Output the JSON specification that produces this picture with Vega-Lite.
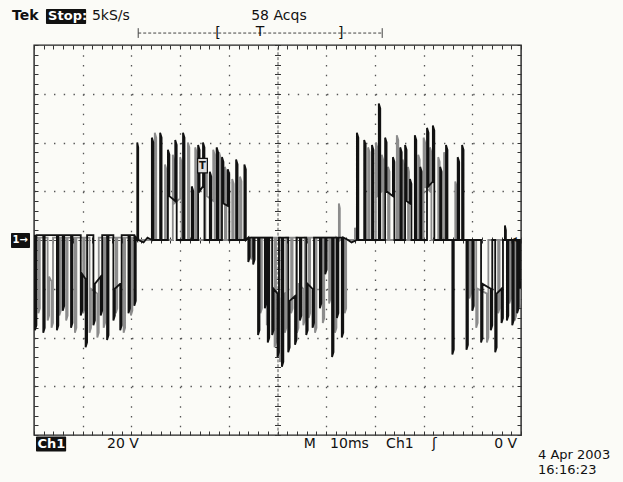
{
"$schema": "https://vega.github.io/schema/vega-lite/v6.json",
"width": 487, "height": 390,
"autosize": {"type": "none"},
"padding": {"left": 34, "top": 45, "right": 102, "bottom": 47},
"background": "#fbfbf7",
"config": {"view": {"stroke": "#222222", "strokeWidth": 1.4, "fill": "#fbfbf7"}, "text": {"font": "DejaVu Sans"}},
"datasets": {
"a": [
{"t":0,"v":1},
{"t":0.2,"v":2},{"t":0.2,"v":-37},{"t":0.5,"v":-35},{"t":0.5,"v":2},
{"t":1.9,"v":2},{"t":1.9,"v":-38},{"t":2.2,"v":-36},{"t":2.2,"v":2},
{"t":4.7,"v":2},{"t":4.7,"v":-37},{"t":5.0,"v":-35},{"t":5.0,"v":2},
{"t":5.9,"v":2},{"t":5.9,"v":-29},{"t":6.2,"v":-27},{"t":6.2,"v":2},
{"t":7.6,"v":2},{"t":7.6,"v":-36},{"t":7.9,"v":-34},{"t":7.9,"v":2},
{"t":9.6,"v":2},{"t":9.6,"v":-31},{"t":9.9,"v":-29},{"t":9.9,"v":-14},
{"t":10.6,"v":-16},{"t":10.6,"v":-44},{"t":10.9,"v":-42},{"t":10.9,"v":2},
{"t":12.2,"v":2},{"t":12.2,"v":-35},{"t":12.5,"v":-33},{"t":12.5,"v":-18},
{"t":13.7,"v":-15},{"t":13.7,"v":-31},{"t":14.0,"v":-29},{"t":14.0,"v":2},
{"t":15.0,"v":2},{"t":15.0,"v":-41},{"t":15.3,"v":-39},{"t":15.3,"v":2},
{"t":16.3,"v":2},{"t":16.3,"v":-33},{"t":16.6,"v":-31},{"t":16.6,"v":-20},
{"t":17.7,"v":-18},{"t":17.7,"v":-37},{"t":18.0,"v":-35},{"t":18.0,"v":2},
{"t":19.4,"v":2},{"t":19.4,"v":-30},{"t":19.7,"v":-28},{"t":19.7,"v":2},
{"t":20.6,"v":2},{"t":20.6,"v":-27},{"t":20.9,"v":-25},{"t":20.9,"v":1},
{"t":21.2,"v":0},{"t":21.2,"v":40},{"t":21.4,"v":38},{"t":21.4,"v":0},
{"t":22.5,"v":-1},{"t":23.3,"v":1},
{"t":24.2,"v":0},{"t":24.2,"v":42},{"t":24.5,"v":40},{"t":24.5,"v":0},
{"t":25.9,"v":0},{"t":25.9,"v":44},{"t":26.2,"v":42},{"t":26.2,"v":0},
{"t":27.5,"v":0},{"t":27.5,"v":37},{"t":27.8,"v":35},{"t":27.8,"v":18},
{"t":29.0,"v":16},{"t":29.0,"v":41},{"t":29.3,"v":39},{"t":29.3,"v":0},
{"t":30.6,"v":0},{"t":30.6,"v":44},{"t":30.9,"v":42},{"t":30.9,"v":0},
{"t":32.4,"v":0},{"t":32.4,"v":22},{"t":32.7,"v":20},{"t":32.7,"v":0},
{"t":33.7,"v":0},{"t":33.7,"v":39},{"t":34.0,"v":37},{"t":34.0,"v":20},
{"t":34.7,"v":22},{"t":34.7,"v":40},{"t":35.0,"v":38},{"t":35.0,"v":0},
{"t":36.1,"v":0},{"t":36.1,"v":28},{"t":36.4,"v":26},{"t":36.4,"v":0},
{"t":37.5,"v":0},{"t":37.5,"v":38},{"t":37.8,"v":36},{"t":37.8,"v":0},
{"t":38.6,"v":0},{"t":38.6,"v":34},{"t":38.9,"v":32},{"t":38.9,"v":15},
{"t":39.8,"v":14},{"t":39.8,"v":29},{"t":40.1,"v":27},{"t":40.1,"v":0},
{"t":41.5,"v":0},{"t":41.5,"v":33},{"t":41.8,"v":31},{"t":41.8,"v":0},
{"t":43.2,"v":0},{"t":43.2,"v":31},{"t":43.5,"v":29},{"t":43.5,"v":0},
{"t":44.0,"v":1},{"t":44.0,"v":-9},{"t":44.3,"v":-7},{"t":44.3,"v":1},
{"t":45.0,"v":1},{"t":45.0,"v":-10},{"t":45.3,"v":-8},{"t":45.3,"v":1},
{"t":46.0,"v":1},{"t":46.0,"v":-39},{"t":46.3,"v":-37},{"t":46.3,"v":1},
{"t":47.4,"v":1},{"t":47.4,"v":-28},{"t":47.7,"v":-26},{"t":47.7,"v":1},
{"t":48.0,"v":1},{"t":48.0,"v":-42},{"t":48.3,"v":-40},{"t":48.3,"v":1},
{"t":48.9,"v":1},{"t":48.9,"v":-39},{"t":49.2,"v":-37},{"t":49.2,"v":-20},
{"t":50.0,"v":-22},{"t":50.0,"v":-48},{"t":50.3,"v":-46},{"t":50.3,"v":1},
{"t":50.9,"v":1},{"t":50.9,"v":-52},{"t":51.2,"v":-50},{"t":51.2,"v":1},
{"t":52.2,"v":1},{"t":52.2,"v":-46},{"t":52.5,"v":-44},{"t":52.5,"v":-25},
{"t":53.6,"v":-23},{"t":53.6,"v":-43},{"t":53.9,"v":-41},{"t":53.9,"v":1},
{"t":54.6,"v":1},{"t":54.6,"v":-33},{"t":54.9,"v":-31},{"t":54.9,"v":1},
{"t":55.9,"v":1},{"t":55.9,"v":-39},{"t":56.2,"v":-37},{"t":56.2,"v":-18},
{"t":57.2,"v":-20},{"t":57.2,"v":-36},{"t":57.5,"v":-34},{"t":57.5,"v":1},
{"t":58.7,"v":1},{"t":58.7,"v":-28},{"t":59.0,"v":-26},{"t":59.0,"v":1},
{"t":59.8,"v":1},{"t":59.8,"v":-14},{"t":60.1,"v":-12},{"t":60.1,"v":1},
{"t":61.2,"v":1},{"t":61.2,"v":-48},{"t":61.5,"v":-46},{"t":61.5,"v":1},
{"t":62.2,"v":1},{"t":62.2,"v":-32},{"t":62.5,"v":-30},{"t":62.5,"v":1},
{"t":63.2,"v":1},{"t":63.2,"v":-40},{"t":63.5,"v":-38},{"t":63.5,"v":1},
{"t":64.5,"v":0},{"t":65.2,"v":-1},
{"t":66.3,"v":0},{"t":66.3,"v":44},{"t":66.6,"v":42},{"t":66.6,"v":0},
{"t":67.8,"v":0},{"t":67.8,"v":41},{"t":68.1,"v":39},{"t":68.1,"v":0},
{"t":69.4,"v":0},{"t":69.4,"v":39},{"t":69.7,"v":37},{"t":69.7,"v":0},
{"t":70.8,"v":0},{"t":70.8,"v":56},{"t":71.1,"v":54},{"t":71.1,"v":0},
{"t":72.1,"v":0},{"t":72.1,"v":42},{"t":72.4,"v":40},{"t":72.4,"v":20},
{"t":73.7,"v":18},{"t":73.7,"v":34},{"t":74.0,"v":32},{"t":74.0,"v":0},
{"t":75.2,"v":0},{"t":75.2,"v":38},{"t":75.5,"v":36},{"t":75.5,"v":0},
{"t":76.2,"v":0},{"t":76.2,"v":39},{"t":76.5,"v":37},{"t":76.5,"v":16},
{"t":77.2,"v":15},{"t":77.2,"v":25},{"t":77.5,"v":23},{"t":77.5,"v":0},
{"t":78.2,"v":0},{"t":78.2,"v":43},{"t":78.5,"v":41},{"t":78.5,"v":0},
{"t":79.3,"v":0},{"t":79.3,"v":30},{"t":79.6,"v":28},{"t":79.6,"v":0},
{"t":80.7,"v":0},{"t":80.7,"v":46},{"t":81.0,"v":44},{"t":81.0,"v":22},
{"t":81.9,"v":24},{"t":81.9,"v":47},{"t":82.2,"v":45},{"t":82.2,"v":0},
{"t":83.4,"v":0},{"t":83.4,"v":30},{"t":83.7,"v":28},{"t":83.7,"v":0},
{"t":84.6,"v":0},{"t":84.6,"v":39},{"t":84.9,"v":37},{"t":84.9,"v":0},
{"t":85.9,"v":0},{"t":85.9,"v":-47},{"t":86.2,"v":-45},{"t":86.2,"v":0},
{"t":87.0,"v":0},{"t":87.0,"v":34},{"t":87.3,"v":32},{"t":87.3,"v":0},
{"t":87.9,"v":0},{"t":87.9,"v":39},{"t":88.2,"v":37},{"t":88.2,"v":0},
{"t":88.8,"v":0},{"t":88.8,"v":-45},{"t":89.1,"v":-43},{"t":89.1,"v":0},
{"t":90.0,"v":0},{"t":90.0,"v":-29},{"t":90.3,"v":-27},{"t":90.3,"v":0},
{"t":91.8,"v":0},{"t":91.8,"v":-42},{"t":92.1,"v":-40},{"t":92.1,"v":-18},
{"t":93.8,"v":-20},{"t":93.8,"v":-37},{"t":94.1,"v":-35},{"t":94.1,"v":0},
{"t":94.7,"v":0},{"t":94.7,"v":-46},{"t":95.0,"v":-44},{"t":95.0,"v":-22},
{"t":96.0,"v":-20},{"t":96.0,"v":-34},{"t":96.3,"v":-32},{"t":96.3,"v":0},
{"t":96.7,"v":0},{"t":96.7,"v":6},{"t":96.9,"v":4},{"t":96.9,"v":0},
{"t":97.1,"v":0},{"t":97.1,"v":-33},{"t":97.4,"v":-31},{"t":97.4,"v":0},
{"t":98.2,"v":0},{"t":98.2,"v":-35},{"t":98.5,"v":-33},{"t":98.5,"v":0},
{"t":99.2,"v":0},{"t":99.2,"v":-30},{"t":99.5,"v":-28},{"t":99.5,"v":0},
{"t":99.8,"v":0},{"t":99.8,"v":-20},{"t":100,"v":-17}
],
"b": [
{"t":0,"v":1},
{"t":0.9,"v":1},{"t":0.9,"v":-30},{"t":1.2,"v":-28},{"t":1.2,"v":1},
{"t":2.8,"v":1},{"t":2.8,"v":-33},{"t":3.1,"v":-31},{"t":3.1,"v":-15},
{"t":3.6,"v":-17},{"t":3.6,"v":-36},{"t":3.9,"v":-34},{"t":3.9,"v":1},
{"t":5.2,"v":1},{"t":5.2,"v":-31},{"t":5.5,"v":-29},{"t":5.5,"v":1},
{"t":6.6,"v":1},{"t":6.6,"v":-33},{"t":6.9,"v":-31},{"t":6.9,"v":1},
{"t":8.4,"v":1},{"t":8.4,"v":-38},{"t":8.7,"v":-36},{"t":8.7,"v":1},
{"t":10.1,"v":1},{"t":10.1,"v":-30},{"t":10.4,"v":-28},{"t":10.4,"v":1},
{"t":11.4,"v":1},{"t":11.4,"v":-38},{"t":11.7,"v":-36},{"t":11.7,"v":-20},
{"t":13.0,"v":-22},{"t":13.0,"v":-40},{"t":13.3,"v":-38},{"t":13.3,"v":1},
{"t":14.3,"v":1},{"t":14.3,"v":-36},{"t":14.6,"v":-34},{"t":14.6,"v":1},
{"t":16.8,"v":1},{"t":16.8,"v":-30},{"t":17.1,"v":-28},{"t":17.1,"v":1},
{"t":18.4,"v":1},{"t":18.4,"v":-38},{"t":18.7,"v":-36},{"t":18.7,"v":1},
{"t":19.9,"v":1},{"t":19.9,"v":-31},{"t":20.2,"v":-29},{"t":20.2,"v":1},
{"t":22.0,"v":0},
{"t":24.8,"v":0},{"t":24.8,"v":44},{"t":25.1,"v":42},{"t":25.1,"v":0},
{"t":26.9,"v":0},{"t":26.9,"v":31},{"t":27.2,"v":29},{"t":27.2,"v":0},
{"t":28.5,"v":0},{"t":28.5,"v":35},{"t":28.8,"v":33},{"t":28.8,"v":15},
{"t":30.0,"v":17},{"t":30.0,"v":34},{"t":30.3,"v":32},{"t":30.3,"v":0},
{"t":31.6,"v":0},{"t":31.6,"v":40},{"t":31.9,"v":38},{"t":31.9,"v":0},
{"t":33.1,"v":0},{"t":33.1,"v":38},{"t":33.4,"v":36},{"t":33.4,"v":0},
{"t":35.2,"v":0},{"t":35.2,"v":33},{"t":35.5,"v":31},{"t":35.5,"v":18},
{"t":36.8,"v":16},{"t":36.8,"v":37},{"t":37.1,"v":35},{"t":37.1,"v":0},
{"t":38.0,"v":0},{"t":38.0,"v":36},{"t":38.3,"v":34},{"t":38.3,"v":0},
{"t":39.2,"v":0},{"t":39.2,"v":30},{"t":39.5,"v":28},{"t":39.5,"v":0},
{"t":40.7,"v":0},{"t":40.7,"v":25},{"t":41.0,"v":23},{"t":41.0,"v":0},
{"t":42.3,"v":0},{"t":42.3,"v":26},{"t":42.6,"v":24},{"t":42.6,"v":0},
{"t":44.6,"v":1},{"t":44.6,"v":-8},{"t":44.9,"v":-6},{"t":44.9,"v":1},
{"t":46.5,"v":1},{"t":46.5,"v":-30},{"t":46.8,"v":-28},{"t":46.8,"v":1},
{"t":47.8,"v":1},{"t":47.8,"v":-35},{"t":48.1,"v":-33},{"t":48.1,"v":1},
{"t":49.4,"v":1},{"t":49.4,"v":-44},{"t":49.7,"v":-42},{"t":49.7,"v":1},
{"t":50.5,"v":1},{"t":50.5,"v":-50},{"t":50.8,"v":-48},{"t":50.8,"v":-24},
{"t":51.5,"v":-22},{"t":51.5,"v":-38},{"t":51.8,"v":-36},{"t":51.8,"v":1},
{"t":52.8,"v":1},{"t":52.8,"v":-30},{"t":53.1,"v":-28},{"t":53.1,"v":1},
{"t":54.0,"v":1},{"t":54.0,"v":-38},{"t":54.3,"v":-36},{"t":54.3,"v":-18},
{"t":55.3,"v":-20},{"t":55.3,"v":-35},{"t":55.6,"v":-33},{"t":55.6,"v":1},
{"t":56.4,"v":1},{"t":56.4,"v":-32},{"t":56.7,"v":-30},{"t":56.7,"v":1},
{"t":57.7,"v":1},{"t":57.7,"v":-38},{"t":58.0,"v":-36},{"t":58.0,"v":1},
{"t":59.3,"v":1},{"t":59.3,"v":-34},{"t":59.6,"v":-32},{"t":59.6,"v":1},
{"t":60.6,"v":1},{"t":60.6,"v":-26},{"t":60.9,"v":-24},{"t":60.9,"v":1},
{"t":61.8,"v":1},{"t":61.8,"v":-38},{"t":62.1,"v":-36},{"t":62.1,"v":1},
{"t":62.6,"v":0},{"t":62.6,"v":15},{"t":62.8,"v":13},{"t":62.8,"v":0},
{"t":63.8,"v":0},{"t":63.8,"v":-30},{"t":64.1,"v":-28},{"t":64.1,"v":0},
{"t":65.9,"v":0},{"t":65.9,"v":5},{"t":66.1,"v":4},{"t":66.1,"v":0},
{"t":68.6,"v":0},{"t":68.6,"v":38},{"t":68.9,"v":36},{"t":68.9,"v":0},
{"t":70.2,"v":0},{"t":70.2,"v":40},{"t":70.5,"v":38},{"t":70.5,"v":18},
{"t":71.4,"v":20},{"t":71.4,"v":35},{"t":71.7,"v":33},{"t":71.7,"v":0},
{"t":72.7,"v":0},{"t":72.7,"v":30},{"t":73.0,"v":28},{"t":73.0,"v":0},
{"t":74.5,"v":0},{"t":74.5,"v":43},{"t":74.8,"v":41},{"t":74.8,"v":0},
{"t":75.7,"v":0},{"t":75.7,"v":33},{"t":76.0,"v":31},{"t":76.0,"v":0},
{"t":76.8,"v":0},{"t":76.8,"v":30},{"t":77.0,"v":28},{"t":77.0,"v":0},
{"t":78.9,"v":0},{"t":78.9,"v":35},{"t":79.2,"v":33},{"t":79.2,"v":0},
{"t":80.0,"v":0},{"t":80.0,"v":42},{"t":80.3,"v":40},{"t":80.3,"v":22},
{"t":81.3,"v":20},{"t":81.3,"v":38},{"t":81.6,"v":36},{"t":81.6,"v":0},
{"t":83.0,"v":0},{"t":83.0,"v":34},{"t":83.3,"v":32},{"t":83.3,"v":0},
{"t":84.2,"v":0},{"t":84.2,"v":36},{"t":84.5,"v":34},{"t":84.5,"v":0},
{"t":86.5,"v":0},{"t":86.5,"v":24},{"t":86.8,"v":22},{"t":86.8,"v":0},
{"t":89.4,"v":0},{"t":89.4,"v":-24},{"t":89.7,"v":-22},{"t":89.7,"v":0},
{"t":90.8,"v":0},{"t":90.8,"v":-36},{"t":91.1,"v":-34},{"t":91.1,"v":-20},
{"t":93.0,"v":-22},{"t":93.0,"v":-42},{"t":93.3,"v":-40},{"t":93.3,"v":0},
{"t":95.3,"v":0},{"t":95.3,"v":-30},{"t":95.6,"v":-28},{"t":95.6,"v":0},
{"t":97.6,"v":0},{"t":97.6,"v":-26},{"t":97.9,"v":-24},{"t":97.9,"v":0},
{"t":98.7,"v":0},{"t":98.7,"v":-33},{"t":99.0,"v":-31},{"t":99.0,"v":0},
{"t":99.5,"v":0},{"t":99.5,"v":-28},{"t":99.8,"v":-26},{"t":99.8,"v":0},{"t":100,"v":0}
],
"boxes": [
{"t":2.46,"t2":10.7,"v":94.8,"v2":88.6},
{"t":0.41,"t2":6.6,"v":-80.6,"v2":-86.8},
{"t":-4.72,"t2":-0.82,"v":2.9,"v2":-3.3}
],
"wtext": [
{"t":2.9,"v":91.7,"txt":"Stop:"},
{"t":0.72,"v":-83.7,"txt":"Ch1"}
],
"gtext": [
{"t":-4.4,"v":-0.2,"txt":"1→"}
],
"ntext": [
{"t":11.9,"v":91.7,"txt":"5kS/s"},
{"t":44.6,"v":91.7,"txt":"58 Acqs"},
{"t":15.0,"v":-83.7,"txt":"20 V"},
{"t":55.4,"v":-83.7,"txt":"M"},
{"t":60.8,"v":-83.7,"txt":"10ms"},
{"t":72.3,"v":-83.7,"txt":"Ch1"},
{"t":81.7,"v":-83.7,"txt":"ʃ"},
{"t":94.5,"v":-83.7,"txt":"0 V"}
],
"dtext": [
{"t":103.5,"v":-85.8,"txt":"4 Apr 2003\n16:16:23"}
],
"btext": [
{"t":-4.5,"v":91.7,"txt":"Tek"}
],
"bar": [
{"t":21.4,"t2":71.5,"v":84.9}
],
"barends": [
{"t":21.4,"v":86.9,"v2":82.9},
{"t":71.5,"v":86.9,"v2":82.9}
],
"brackets": [
{"t":37.8,"v":84.9,"txt":"["},
{"t":46.4,"v":85.3,"txt":"T"},
{"t":63.0,"v":84.9,"txt":"]"}
],
"tbox": [
{"t":33.6,"t2":35.6,"v":33.5,"v2":27.5}
],
"marks": [
{"t":34.6,"v":30.5,"txt":"T"},
{"t":98.6,"v":0.5,"txt":"◂"}
]
},
"resolve": {"axis": {"x": "independent", "y": "independent"}},
"layer": [
{
"data": {"name": "b"},
"mark": {"type": "line", "stroke": "#8c8c8c", "strokeWidth": 1.8, "clip": true},
"encoding": {
"x": {"field": "t", "type": "quantitative", "scale": {"domain": [0, 100], "nice": false, "zero": false}, "title": null,
"axis": {"orient": "bottom", "values": [0,2,4,6,8,10,12,14,16,18,20,22,24,26,28,30,32,34,36,38,40,42,44,46,48,50,52,54,56,58,60,62,64,66,68,70,72,74,76,78,80,82,84,86,88,90,92,94,96,98,100], "tickSize": -4, "tickColor": "#333333", "labels": false, "domain": false, "grid": false}},
"y": {"field": "v", "type": "quantitative", "scale": {"domain": [-80, 80], "nice": false, "zero": false}, "title": null,
"axis": {"orient": "left", "values": [-80,-76,-72,-68,-64,-60,-56,-52,-48,-44,-40,-36,-32,-28,-24,-20,-16,-12,-8,-4,0,4,8,12,16,20,24,28,32,36,40,44,48,52,56,60,64,68,72,76,80], "tickSize": -4, "tickColor": "#333333", "labels": false, "domain": false, "grid": false}},
"order": {"value": null}
}
},
{
"data": {"name": "a"},
"mark": {"type": "line", "stroke": "#111111", "strokeWidth": 1.8, "clip": true},
"encoding": {
"x": {"field": "t", "type": "quantitative", "scale": {"domain": [0, 100], "nice": false, "zero": false}, "title": null,
"axis": {"orient": "bottom", "values": [10,20,30,40,60,70,80,90], "grid": true, "gridColor": "#555555", "gridWidth": 1.3, "gridDash": [1.4, 8.35], "ticks": false, "labels": false, "domain": false}},
"y": {"field": "v", "type": "quantitative", "scale": {"domain": [-80, 80], "nice": false, "zero": false}, "title": null,
"axis": {"orient": "left", "values": [-60,-40,-20,20,40,60], "grid": true, "gridColor": "#555555", "gridWidth": 1.3, "gridDash": [1.4, 8.35], "ticks": false, "labels": false, "domain": false}},
"order": {"value": null}
}
},
{
"data": {"name": "boxes"},
"mark": {"type": "rect", "fill": "#111111", "cornerRadius": 1},
"encoding": {
"x": {"field": "t", "type": "quantitative", "scale": {"domain": [0, 100], "nice": false, "zero": false}, "title": null,
"axis": {"orient": "top", "values": [0,2,4,6,8,10,12,14,16,18,20,22,24,26,28,30,32,34,36,38,40,42,44,46,48,50,52,54,56,58,60,62,64,66,68,70,72,74,76,78,80,82,84,86,88,90,92,94,96,98,100], "tickSize": -4, "tickColor": "#333333", "labels": false, "domain": false, "grid": false}},
"x2": {"field": "t2"},
"y": {"field": "v", "type": "quantitative", "scale": {"domain": [-80, 80], "nice": false, "zero": false}, "title": null,
"axis": {"orient": "right", "values": [-80,-76,-72,-68,-64,-60,-56,-52,-48,-44,-40,-36,-32,-28,-24,-20,-16,-12,-8,-4,0,4,8,12,16,20,24,28,32,36,40,44,48,52,56,60,64,68,72,76,80], "tickSize": -4, "tickColor": "#333333", "labels": false, "domain": false, "grid": false}},
"y2": {"field": "v2"}
}
},
{
"data": {"name": "wtext"},
"mark": {"type": "text", "color": "#ffffff", "fontWeight": "bold", "fontSize": 13, "align": "left", "baseline": "middle"},
"encoding": {
"x": {"field": "t", "type": "quantitative", "scale": {"domain": [0, 100], "nice": false, "zero": false}, "title": null,
"axis": {"orient": "bottom", "offset": -195, "values": [0,2,4,6,8,10,12,14,16,18,20,22,24,26,28,30,32,34,36,38,40,42,44,46,48,50,52,54,56,58,60,62,64,66,68,70,72,74,76,78,80,82,84,86,88,90,92,94,96,98,100], "tickSize": 3, "tickColor": "#333333", "labels": false, "domain": true, "domainColor": "#555555", "domainDash": [3, 1.875], "grid": false}},
"y": {"field": "v", "type": "quantitative", "scale": {"domain": [-80, 80], "nice": false, "zero": false}, "title": null,
"axis": {"orient": "left", "offset": -243.5, "values": [-80,-76,-72,-68,-64,-60,-56,-52,-48,-44,-40,-36,-32,-28,-24,-20,-16,-12,-8,-4,0,4,8,12,16,20,24,28,32,36,40,44,48,52,56,60,64,68,72,76,80], "tickSize": 3, "tickColor": "#333333", "labels": false, "domain": true, "domainColor": "#555555", "domainDash": [3, 1.875], "grid": false}},
"text": {"field": "txt"}
}
},
{
"data": {"name": "ntext"},
"mark": {"type": "text", "color": "#111111", "fontSize": 14, "align": "left", "baseline": "middle"},
"encoding": {
"x": {"field": "t", "type": "quantitative", "scale": {"domain": [0, 100], "nice": false, "zero": false}, "title": null,
"axis": {"orient": "top", "offset": -195, "values": [0,2,4,6,8,10,12,14,16,18,20,22,24,26,28,30,32,34,36,38,40,42,44,46,48,50,52,54,56,58,60,62,64,66,68,70,72,74,76,78,80,82,84,86,88,90,92,94,96,98,100], "tickSize": 3, "tickColor": "#333333", "labels": false, "domain": false, "grid": false}},
"y": {"field": "v", "type": "quantitative", "scale": {"domain": [-80, 80], "nice": false, "zero": false}, "title": null,
"axis": {"orient": "right", "offset": -243.5, "values": [-80,-76,-72,-68,-64,-60,-56,-52,-48,-44,-40,-36,-32,-28,-24,-20,-16,-12,-8,-4,0,4,8,12,16,20,24,28,32,36,40,44,48,52,56,60,64,68,72,76,80], "tickSize": 3, "tickColor": "#333333", "labels": false, "domain": false, "grid": false}},
"text": {"field": "txt"}
}
},
{
"data": {"name": "dtext"},
"mark": {"type": "text", "color": "#111111", "fontSize": 13, "align": "left", "baseline": "top", "lineBreak": "\n", "lineHeight": 15},
"encoding": {
"x": {"field": "t", "type": "quantitative", "scale": {"domain": [0, 100], "nice": false, "zero": false}, "axis": null},
"y": {"field": "v", "type": "quantitative", "scale": {"domain": [-80, 80], "nice": false, "zero": false}, "axis": null},
"text": {"field": "txt"}
}
},
{
"data": {"name": "gtext"},
"mark": {"type": "text", "color": "#ffffff", "fontWeight": "bold", "fontSize": 10, "align": "left", "baseline": "middle"},
"encoding": {
"x": {"field": "t", "type": "quantitative", "scale": {"domain": [0, 100], "nice": false, "zero": false}, "axis": null},
"y": {"field": "v", "type": "quantitative", "scale": {"domain": [-80, 80], "nice": false, "zero": false}, "axis": null},
"text": {"field": "txt"}
}
},
{
"data": {"name": "btext"},
"mark": {"type": "text", "color": "#111111", "fontWeight": "bold", "fontSize": 14, "align": "left", "baseline": "middle"},
"encoding": {
"x": {"field": "t", "type": "quantitative", "scale": {"domain": [0, 100], "nice": false, "zero": false}, "axis": null},
"y": {"field": "v", "type": "quantitative", "scale": {"domain": [-80, 80], "nice": false, "zero": false}, "axis": null},
"text": {"field": "txt"}
}
},
{
"data": {"name": "bar"},
"mark": {"type": "rule", "stroke": "#444444", "strokeWidth": 1, "strokeDash": [3, 2]},
"encoding": {
"x": {"field": "t", "type": "quantitative", "scale": {"domain": [0, 100], "nice": false, "zero": false}, "axis": null},
"x2": {"field": "t2"},
"y": {"field": "v", "type": "quantitative", "scale": {"domain": [-80, 80], "nice": false, "zero": false}, "axis": null}
}
},
{
"data": {"name": "barends"},
"mark": {"type": "rule", "stroke": "#444444", "strokeWidth": 1},
"encoding": {
"x": {"field": "t", "type": "quantitative", "scale": {"domain": [0, 100], "nice": false, "zero": false}, "axis": null},
"y": {"field": "v", "type": "quantitative", "scale": {"domain": [-80, 80], "nice": false, "zero": false}, "axis": null},
"y2": {"field": "v2"}
}
},
{
"data": {"name": "brackets"},
"mark": {"type": "text", "color": "#111111", "fontSize": 14, "align": "center", "baseline": "middle"},
"encoding": {
"x": {"field": "t", "type": "quantitative", "scale": {"domain": [0, 100], "nice": false, "zero": false}, "axis": null},
"y": {"field": "v", "type": "quantitative", "scale": {"domain": [-80, 80], "nice": false, "zero": false}, "axis": null},
"text": {"field": "txt"}
}
},
{
"data": {"name": "tbox"},
"mark": {"type": "rect", "fill": "#dddddd", "stroke": "#111111", "strokeWidth": 1.2},
"encoding": {
"x": {"field": "t", "type": "quantitative", "scale": {"domain": [0, 100], "nice": false, "zero": false}, "axis": null},
"x2": {"field": "t2"},
"y": {"field": "v", "type": "quantitative", "scale": {"domain": [-80, 80], "nice": false, "zero": false}, "axis": null},
"y2": {"field": "v2"}
}
},
{
"data": {"name": "marks"},
"mark": {"type": "text", "color": "#111111", "fontWeight": "bold", "fontSize": 10, "align": "center", "baseline": "middle"},
"encoding": {
"x": {"field": "t", "type": "quantitative", "scale": {"domain": [0, 100], "nice": false, "zero": false}, "axis": null},
"y": {"field": "v", "type": "quantitative", "scale": {"domain": [-80, 80], "nice": false, "zero": false}, "axis": null},
"text": {"field": "txt"}
}
}
]
}
